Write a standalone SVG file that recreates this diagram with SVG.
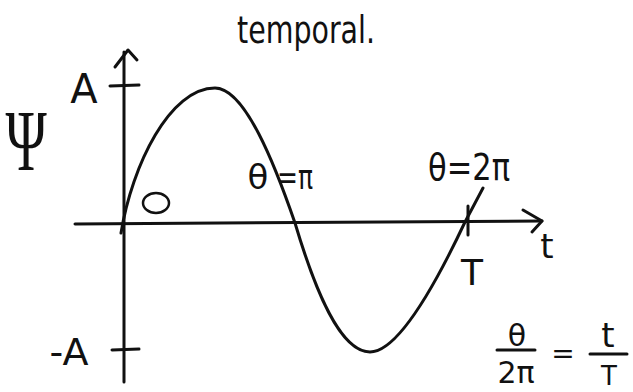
<svg xmlns="http://www.w3.org/2000/svg" width="633" height="392" viewBox="0 0 633 392">
<style>
.ln{fill:none;stroke:#111;stroke-width:3;stroke-linecap:round;stroke-linejoin:round}
.th{fill:none;stroke:#111;stroke-width:2.5;stroke-linecap:round}
.tx{font-family:"DejaVu Sans","Liberation Sans",sans-serif;fill:#111}
</style>
<rect width="633" height="392" fill="#fff"/>
<g id="axes">
<path class="ln" d="M124,52 L124,382"/>
<path class="ln" d="M115,67 L128,50 L137,60"/>
<path class="ln" d="M75,224 L542,221"/>
<path class="ln" d="M523,210 L542,221 L532,232"/>
<path class="ln" d="M110,86 L139,85"/>
<path class="ln" d="M112,350 L139,349"/>
<path class="ln" d="M468,206 L468,235"/>
</g>
<g id="wave">
<path class="ln" d="M121,233 C132,165 170,88 215,88 C245,88 275,165 295,223 C315,290 340,352 370,352 C400,352 440,275 465,222 L483,188"/>
</g>
<g id="labels">
<text class="tx" x="306" y="43" font-size="37" text-anchor="middle" textLength="138" lengthAdjust="spacingAndGlyphs">temporal.</text>
<text x="26" y="170" font-family="Liberation Serif,serif" font-size="86" fill="#111" text-anchor="middle" transform="translate(26,0) scale(0.65,1) translate(-26,0)">Ψ</text>
<text class="tx" x="84" y="103" font-size="40" text-anchor="middle">A</text>
<text class="tx" x="69" y="365" font-size="38" text-anchor="middle">-A</text>
<ellipse class="th" cx="156" cy="203" rx="13" ry="10"/>
<text class="tx" x="258" y="189" font-size="34" text-anchor="middle">θ</text>
<text class="tx" x="277" y="189" font-size="34" textLength="36" lengthAdjust="spacingAndGlyphs">=π</text>
<text class="tx" x="469" y="180" font-size="38" text-anchor="middle" textLength="82" lengthAdjust="spacingAndGlyphs">θ=2π</text>
<text class="tx" x="472" y="285" font-size="36" text-anchor="middle">T</text>
<text class="tx" x="547" y="258" font-size="34" text-anchor="middle">t</text>
<text class="tx" x="517" y="346" font-size="30" text-anchor="middle">θ</text>
<path class="ln" d="M497,350 L535,350"/>
<text class="tx" x="516" y="383" font-size="30" text-anchor="middle">2π</text>
<text class="tx" x="563" y="363" font-size="28" text-anchor="middle">=</text>
<text class="tx" x="608" y="347" font-size="34" text-anchor="middle">t</text>
<path class="ln" d="M590,354 L627,354"/>
<text class="tx" x="609" y="385" font-size="26" text-anchor="middle">T</text>
</g>
</svg>
